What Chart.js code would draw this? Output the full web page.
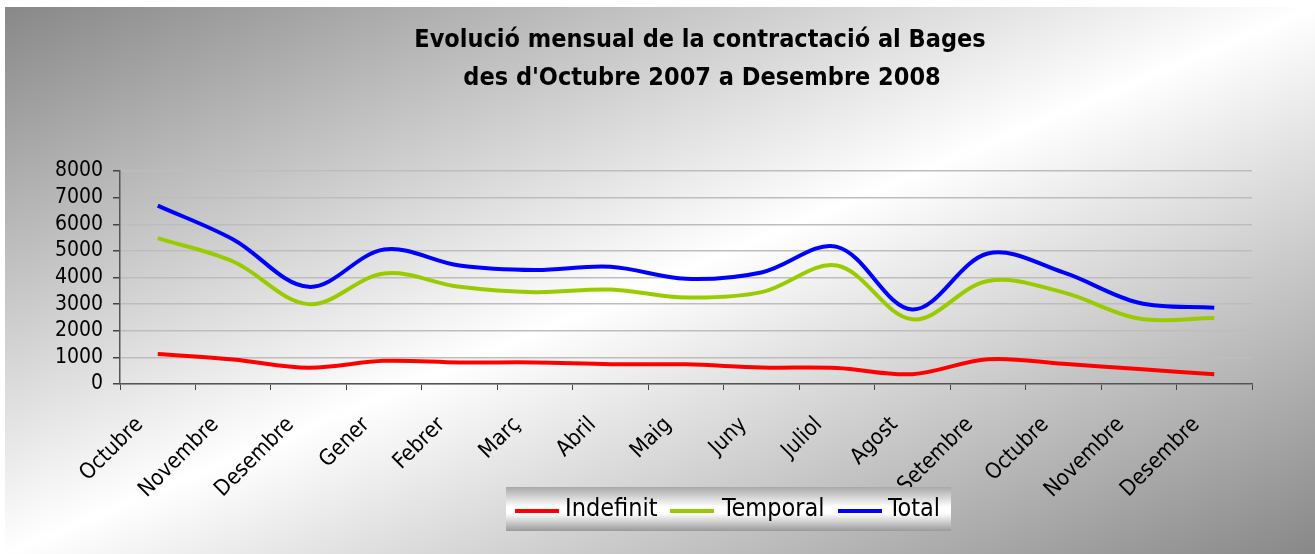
<!DOCTYPE html>
<html>
<head>
<meta charset="utf-8">
<script src="https://cdn.jsdelivr.net/npm/chart.js@4.4.1/dist/chart.umd.min.js"></script>
<style>
  html, body { margin: 0; padding: 0; background: #ffffff; }
  #wrap { width: 1315px; height: 554px; position: relative; }
</style>
</head>
<body>
<div id="wrap"><canvas id="c" width="1315" height="554"></canvas></div>
<script>
const titleLines = ["Evolució mensual de la contractació al Bages", "des d'Octubre 2007 a Desembre 2008"];
const months = ["Octubre","Novembre","Desembre","Gener","Febrer","Març","Abril","Maig","Juny","Juliol","Agost","Setembre","Octubre","Novembre","Desembre"];
const indefinit = [1130, 920, 610, 870, 810, 810, 740, 740, 620, 600, 370, 930, 760, 560, 370];
const temporal  = [5480, 4600, 3000, 4150, 3650, 3450, 3550, 3250, 3450, 4450, 2430, 3870, 3440, 2460, 2480];
const total     = [6700, 5430, 3650, 5050, 4450, 4280, 4400, 3950, 4190, 5150, 2800, 4900, 4190, 3050, 2860];
const seriesNames = ["Indefinit", "Temporal", "Total"];
const seriesColors = ["#ff0000", "#99cc00", "#0000ff"];
const yTicks = [0, 1000, 2000, 3000, 4000, 5000, 6000, 7000, 8000];

const FONT = '"DejaVu Sans Condensed", "DejaVu Sans", sans-serif';

const bgPlugin = {
  id: 'bg',
  beforeDraw(chart) {
    const ctx = chart.ctx;
    ctx.save();
    ctx.fillStyle = '#ffffff';
    ctx.fillRect(0, 0, chart.width, chart.height);
    const x0 = 5, y0 = 7, w = chart.width - 5, h = chart.height - 7;
    const cx = x0 + w / 2, cy = y0 + h / 2;
    let nx = h, ny = w;
    const n = Math.hypot(nx, ny); nx /= n; ny /= n;
    const t = (w / 2) * nx + (h / 2) * ny;
    const g = ctx.createLinearGradient(cx - t * nx, cy - t * ny, cx + t * nx, cy + t * ny);
    g.addColorStop(0, '#888888');
    g.addColorStop(0.5, '#ffffff');
    g.addColorStop(1, '#888888');
    ctx.fillStyle = g;
    ctx.fillRect(x0, y0, w, h);
    ctx.restore();
  }
};

const titlePlugin = {
  id: 'customTitle',
  afterDraw(chart) {
    const ctx = chart.ctx;
    ctx.save();
    ctx.fillStyle = '#000000';
    ctx.font = 'bold 25px ' + FONT;
    ctx.textAlign = 'center';
    ctx.textBaseline = 'alphabetic';
    ctx.fillText(titleLines[0], 700, 47);
    ctx.fillText(titleLines[1], 702, 85);
    ctx.restore();
  }
};

const legendPlugin = {
  id: 'customLegend',
  afterDraw(chart) {
    const ctx = chart.ctx;
    ctx.save();
    const bx = 506, by = 487, bw = 445, bh = 44;
    const g = ctx.createLinearGradient(0, by, 0, by + bh);
    g.addColorStop(0, '#a8a8a8');
    g.addColorStop(0.45, '#ffffff');
    g.addColorStop(0.6, '#ffffff');
    g.addColorStop(1, '#9a9a9a');
    ctx.fillStyle = g;
    ctx.fillRect(bx, by, bw, bh);
    ctx.font = '25px ' + FONT;
    ctx.textBaseline = 'middle';
    ctx.textAlign = 'left';
    const sampleX = [515, 670, 838];
    const textX = [565, 722, 888];
    const cy = 509;
    chart.data.datasets.forEach((ds, i) => {
      ctx.strokeStyle = ds.borderColor;
      ctx.lineWidth = 4;
      ctx.beginPath();
      ctx.moveTo(sampleX[i], cy + 2);
      ctx.lineTo(sampleX[i] + 44, cy + 2);
      ctx.stroke();
      ctx.fillStyle = '#000000';
      ctx.fillText(ds.label, textX[i], cy);
    });
    ctx.restore();
  }
};

new Chart(document.getElementById('c'), {
  type: 'line',
  data: {
    labels: months,
    datasets: [
      { label: seriesNames[0], data: indefinit, borderColor: seriesColors[0], backgroundColor: seriesColors[0] },
      { label: seriesNames[1], data: temporal,  borderColor: seriesColors[1], backgroundColor: seriesColors[1] },
      { label: seriesNames[2], data: total,     borderColor: seriesColors[2], backgroundColor: seriesColors[2] }
    ]
  },
  options: {
    responsive: false,
    animation: false,
    devicePixelRatio: 1,
    layout: { padding: { left: 0, right: 63, top: 171, bottom: 0 } },
    elements: {
      line: { borderWidth: 4, tension: 0.35, capBezierPoints: true },
      point: { radius: 0, hoverRadius: 0 }
    },
    plugins: {
      legend: { display: false },
      title: { display: false },
      tooltip: { enabled: false }
    },
    scales: {
      x: {
        offset: true,
        grid: { display: true, offset: true, drawOnChartArea: false, drawTicks: true, tickLength: 6, tickColor: '#444444' },
        border: { display: true, color: '#555555', width: 1.5 },
        ticks: {
          autoSkip: false, minRotation: 45, maxRotation: 45,
          color: '#000000', font: { family: FONT, size: 22 }, padding: 22, labelOffset: -18
        },
        afterFit(scale) { scale.height = 170; }
      },
      y: {
        min: 0, max: 8000,
        afterBuildTicks(scale) { scale.ticks = yTicks.map(v => ({ value: v })); },
        grid: { color: '#bdbdbd', lineWidth: 1.5, drawTicks: true, tickLength: 7, tickColor: '#444444' },
        border: { display: true, color: '#555555', width: 1.5 },
        ticks: { autoSkip: false, color: '#000000', font: { family: FONT, size: 21 }, padding: 10, callback: (v) => String(v) },
        afterFit(scale) { scale.width = 120; }
      }
    }
  },
  plugins: [bgPlugin, titlePlugin, legendPlugin]
});
</script>
</body>
</html>
